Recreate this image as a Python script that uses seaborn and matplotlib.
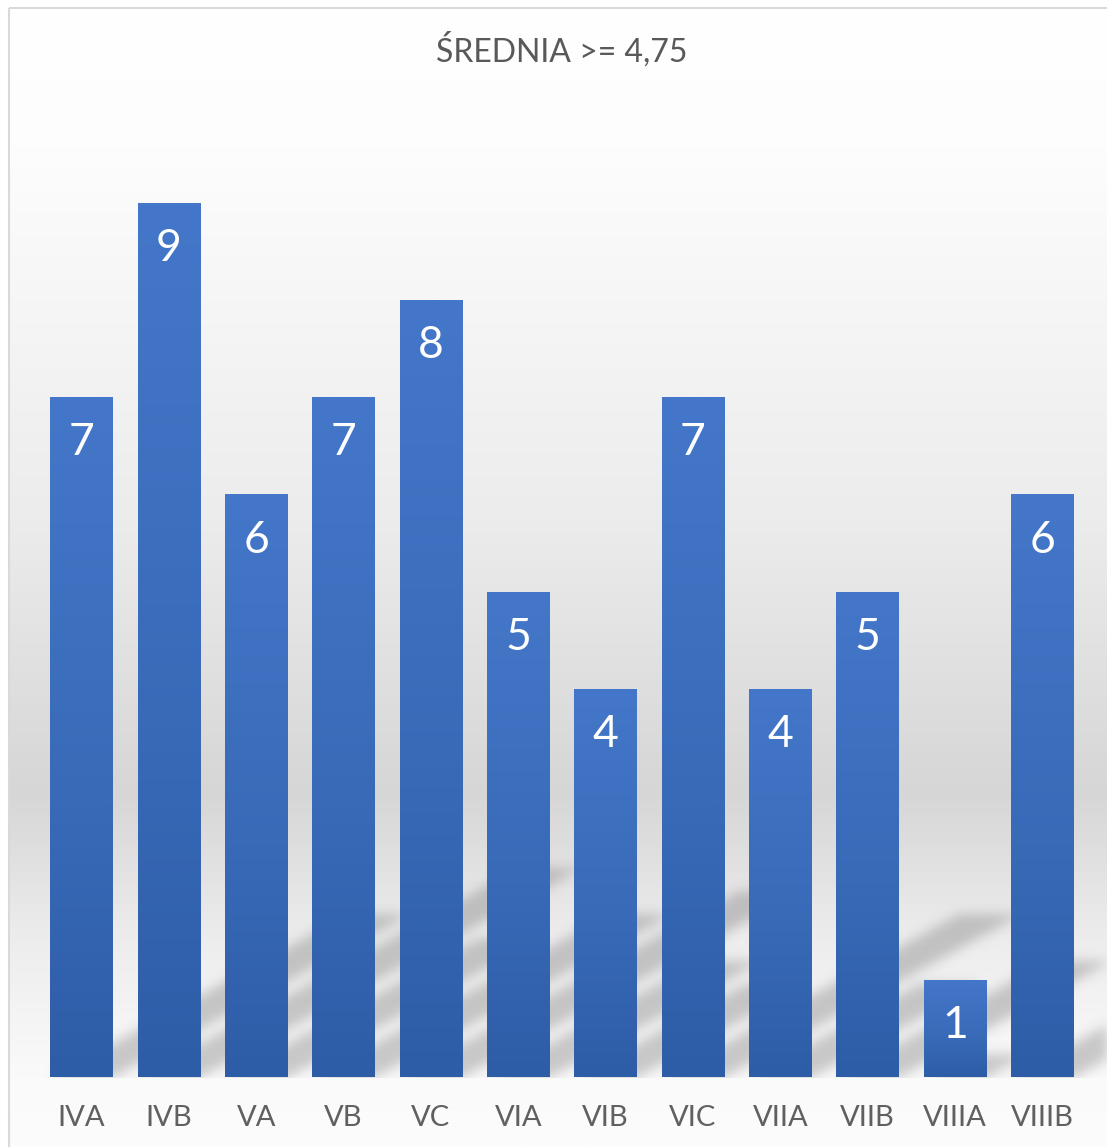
import numpy as np
import pandas as pd
import seaborn as sns
import matplotlib.pyplot as plt
from matplotlib.patches import Rectangle
from matplotlib.colors import LinearSegmentedColormap

# chart data
classes = ['IVA', 'IVB', 'VA', 'VB', 'VC', 'VIA', 'VIB', 'VIC', 'VIIA', 'VIIB', 'VIIIA', 'VIIIB']
counts = [7, 9, 6, 7, 8, 5, 4, 7, 4, 5, 1, 6]
title = 'ŚREDNIA >= 4,75'

df = pd.DataFrame({'klasa': classes, 'liczba': counts})

sns.set_theme(style='white')
plt.rcParams['font.family'] = ['Lato', 'DejaVu Sans']

W, H = 1107, 1147
fig = plt.figure(figsize=(W / 100, H / 100), dpi=100)
fig.patch.set_facecolor('white')

# background of the chart area: white -> grey -> white gradient
bg = fig.add_axes([0, 0, 1, 1], zorder=0)
bg.set_xlim(0, W)
bg.set_ylim(H, 0)
bg.axis('off')
grad = LinearSegmentedColormap.from_list('bg', [
    (0.0, '#ffffff'), (0.12, '#fdfdfd'), (0.45, '#ececec'),
    (0.69, '#d6d6d6'), (0.82, '#ededed'), (0.94, '#fafafa'), (1.0, '#fcfcfc')])
bg.imshow(np.linspace(0, 1, 400).reshape(-1, 1), cmap=grad, aspect='auto',
          extent=(9, W, H, 8), zorder=0)
bg.add_patch(Rectangle((9, 8), W, H, fill=False, edgecolor='#d9d9d9', lw=1.5, zorder=3))

ax = fig.add_axes([38 / W, 70 / H, (1086 - 38) / W, (1077 - 106) / H], zorder=1)
ax.patch.set_alpha(0)
sns.barplot(data=df, x='klasa', y='liczba', color='#4472c4', width=0.72,
            saturation=1, ax=ax, zorder=3)
ax.set_xlim(-0.5, len(classes) - 0.5)
ax.set_ylim(0, 10)

bars = [p for p in ax.patches if isinstance(p, Rectangle)][:len(counts)]

# soft perspective shadows (computed in pixel space from the bars, then blurred)
yy, xx = np.mgrid[0:H, 0:W].astype(float)
yup = H - yy  # display y (from bottom)
mask = np.zeros((H, W))
slope = 0.55
for p in bars:
    (x0, yb), (x1, yt) = ax.transData.transform([(p.get_x(), 0), (p.get_x() + p.get_width(), p.get_height())])
    hpx = yt - yb
    rise = yup - yb
    inside = (rise >= 0) & (rise <= 0.24 * hpx)
    xs = xx - rise / slope
    inside &= (xs >= x0) & (xs <= x1)
    mask = np.maximum(mask, inside.astype(float))

def blur(a, sigma):
    r = int(3 * sigma)
    k = np.exp(-0.5 * (np.arange(-r, r + 1) / sigma) ** 2)
    k /= k.sum()
    a = np.apply_along_axis(lambda m: np.convolve(m, k, mode='same'), 1, a)
    a = np.apply_along_axis(lambda m: np.convolve(m, k, mode='same'), 0, a)
    return a

mask = blur(mask, 6)
base_y = ax.transData.transform([(0, 0)])[0][1]
mask[yup < base_y] = 0
shadow = np.zeros((H, W, 4))
shadow[..., :3] = 0.45
shadow[..., 3] = mask * 0.36
bg.imshow(shadow, extent=(0, W, H, 0), aspect='auto', zorder=1, interpolation='nearest')

# vertical gradient inside each bar
bar_cmap = LinearSegmentedColormap.from_list('bar', [(0, '#2e5da7'), (0.4, '#386ab8'), (1, '#4477c9')])
for p in bars:
    p.set_facecolor('none')
    p.set_edgecolor('none')
    x0, w, h = p.get_x(), p.get_width(), p.get_height()
    im = ax.imshow(np.linspace(0, 1, 400).reshape(-1, 1), cmap=bar_cmap, vmin=0, vmax=1,
                   aspect='auto', origin='lower', extent=(x0, x0 + w, 0, h), zorder=3)
    im.set_clip_path(p)

ax.set_xlim(-0.5, len(classes) - 0.5)
ax.set_ylim(0, 10)

for i, v in enumerate(counts):
    ax.text(i, v - 0.47, str(v), ha='center', va='center', color='white',
            fontsize=32, zorder=5)

sns.despine(ax=ax, left=True, bottom=True)
ax.set_yticks([])
ax.set_xlabel('')
ax.set_ylabel('')
ax.tick_params(axis='x', length=0, pad=20, labelsize=21, labelcolor='#606060')

fig.text(562 / W, 1 - 50 / H, title, ha='center', va='center', fontsize=23,
         color='#595959')

fig.savefig('out.png', dpi=100)
